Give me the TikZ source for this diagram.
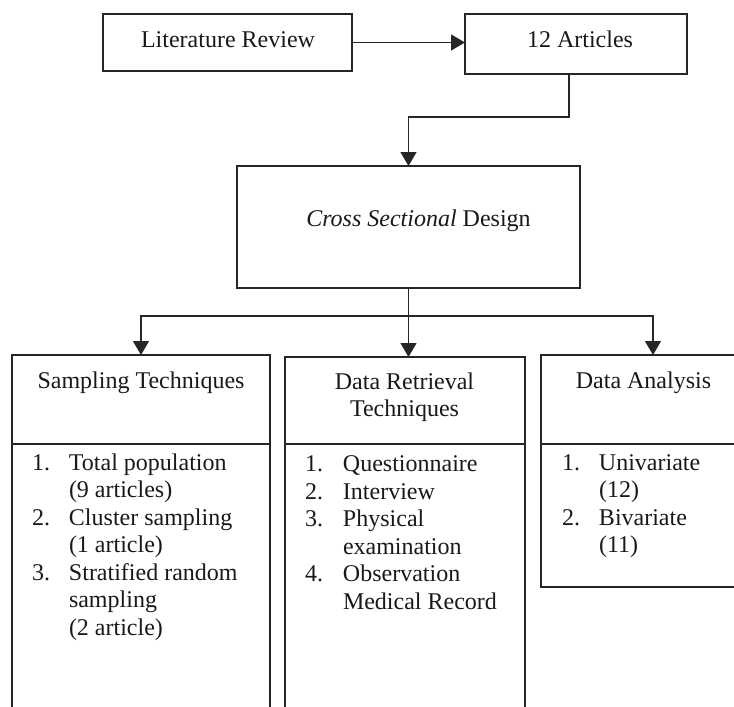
\documentclass[tikz,border=0pt]{standalone}
\usepackage{fontspec}
\setmainfont{Liberation Serif}
\usetikzlibrary{arrows.meta}
\begin{document}
\begin{tikzpicture}[x=0.75pt,y=-0.75pt,
  every node/.style={inner sep=0pt, outer sep=0pt, font=\fontsize{18}{20.6}\selectfont, text=black!90},
  boxnode/.style={draw=black!85, line width=1pt, anchor=north west},
  conn/.style={draw=black!85, line width=1pt},
  arr/.style={conn, -{Triangle[length=10.5pt,width=12pt]}},
  lbl/.style={anchor=base},
  listtext/.style={anchor=north west, align=left},
]
\clip (0,0) rectangle (734,706);
% boxes
\node[boxnode, minimum width=186.75pt, minimum height=42.75pt] (lit) at (103,14) {};
\node[boxnode, minimum width=166.5pt, minimum height=45pt] (art) at (465,14) {};
\node[boxnode, minimum width=257.25pt, minimum height=91.5pt] (cross) at (237,166) {};
\node[boxnode, minimum width=193.5pt, minimum height=273.75pt] (sbox) at (12,355) {};
\node[boxnode, minimum width=180pt, minimum height=272.25pt] (dr) at (285,357) {};
\node[boxnode, minimum width=153pt, minimum height=174pt] (da) at (541,355) {};
% labels
\node[lbl] (littext) at (228,48) {Literature Review};
\node[lbl] (arttext) at (580,48) {12 Articles};
\node[lbl] (crosstext) at (418.5,226) {\textit{Cross Sectional} Design};
\node[lbl] (shead) at (141,388) {Sampling Techniques};
\node[anchor=north, align=center] (drhead) at (404.5,372.6) {Data Retrieval\\Techniques};
\node[lbl] (dahead) at (643.5,388) {Data Analysis};
% dividers
\coordinate (div) at (0,444);
\draw[conn] (sbox.west |- div) -- (sbox.east |- div);
\draw[conn] (dr.west |- div) -- (dr.east |- div);
\draw[conn] (da.west |- div) -- (da.east |- div);
% lists
\node[listtext] (slist) at (32,453.6) {\makebox[27.75pt][l]{1.}Total population\\
\hspace*{27.75pt}(9 articles)\\
\makebox[27.75pt][l]{2.}Cluster sampling\\
\hspace*{27.75pt}(1 article)\\
\makebox[27.75pt][l]{3.}Stratified random\\
\hspace*{27.75pt}sampling\\
\hspace*{27.75pt}(2 article)};
\node[listtext] (drlist) at (305,456) {\makebox[28.5pt][l]{1.}Questionnaire\\
\makebox[28.5pt][l]{2.}Interview\\
\makebox[28.5pt][l]{3.}Physical\\
\hspace*{28.5pt}examination\\
\makebox[28.5pt][l]{4.}Observation\\
\hspace*{28.5pt}Medical Record};
\node[listtext] (dalist) at (562,454.5) {\makebox[27.75pt][l]{1.}Univariate\\
\hspace*{27.75pt}(12)\\
\makebox[27.75pt][l]{2.}Bivariate\\
\hspace*{27.75pt}(11)};
% connectors
\draw[arr] (lit.east) -- (lit.east -| art.west);
\coordinate (elb) at (0,117);
\draw[arr] ([xshift=-5.25pt]art.south) |- (elb -| cross.north) -- (cross.north);
\coordinate (bus) at (0,316);
\draw[arr] (cross.south) -- (cross.south |- dr.north);
\draw[arr] (bus -| cross.south) -| (sbox.north);
\draw[arr] (bus -| cross.south) -| ([xshift=7.5pt]da.north);
\end{tikzpicture}
\end{document}
